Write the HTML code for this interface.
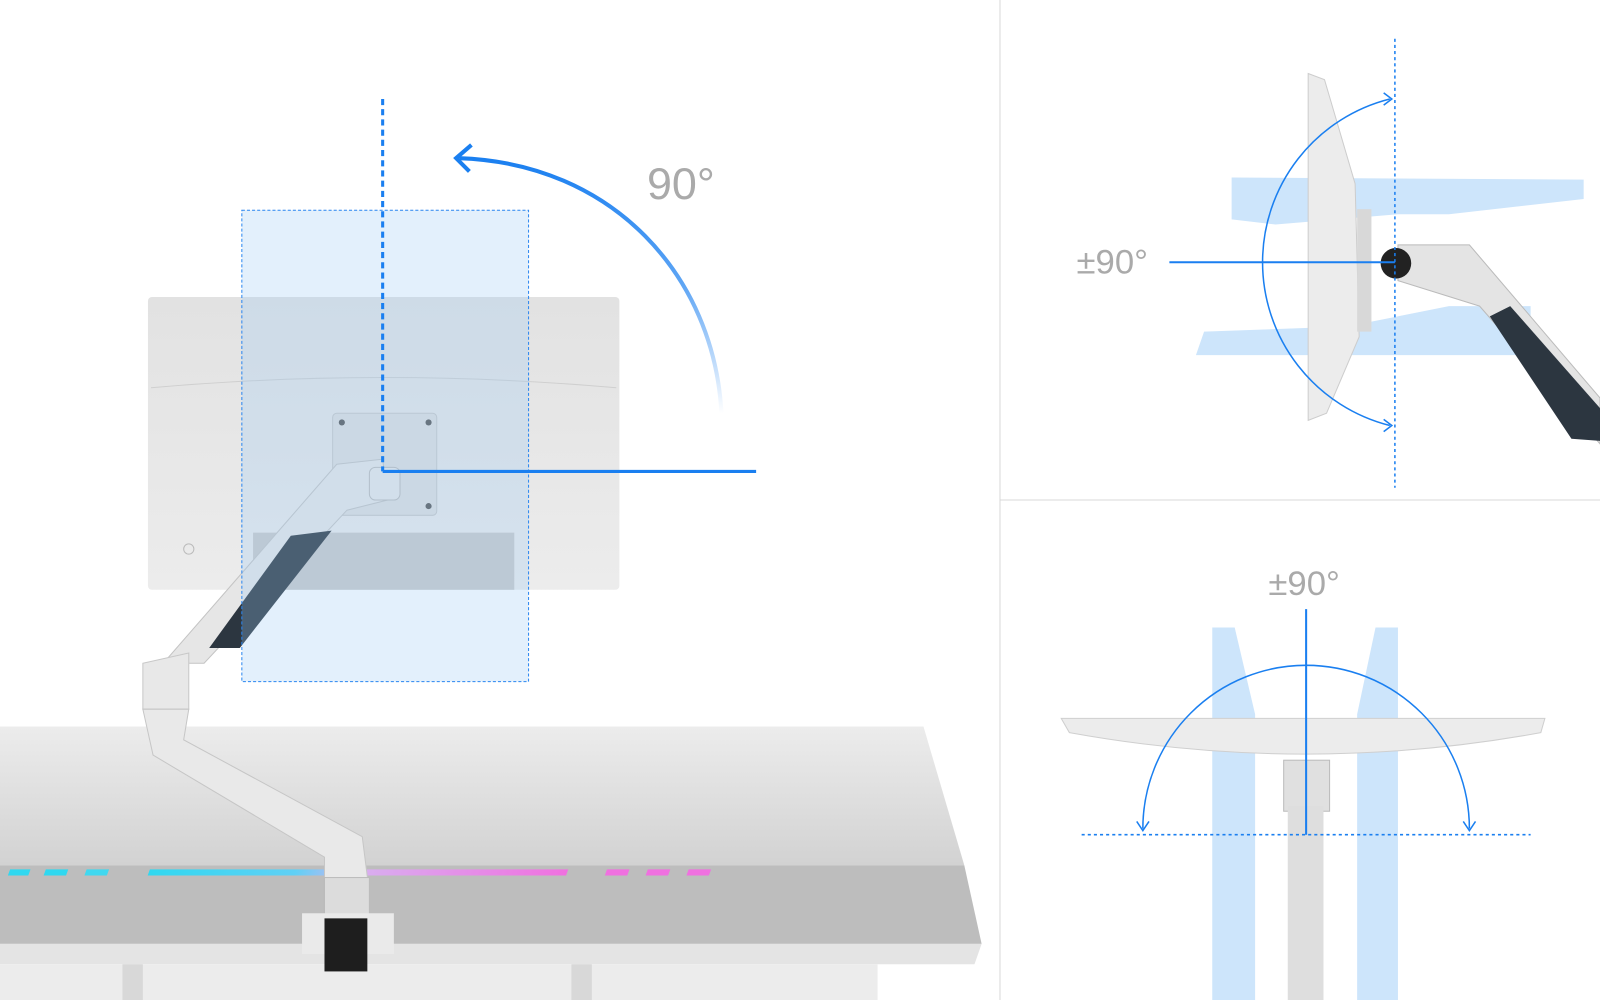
<!DOCTYPE html>
<html><head><meta charset="utf-8"><style>
html,body{margin:0;padding:0;background:#fff;width:1600px;height:1000px;overflow:hidden}
svg{display:block}
text{font-family:"Liberation Sans",sans-serif}
</style></head><body>
<svg width="1600" height="1000" viewBox="0 0 1568 980" preserveAspectRatio="none" xmlns="http://www.w3.org/2000/svg">
<defs>
<linearGradient id="desk" x1="0" y1="0" x2="0" y2="1"><stop offset="0" stop-color="#ececec"/><stop offset="1" stop-color="#d2d2d2"/></linearGradient>
<linearGradient id="mon" x1="0" y1="0" x2="0" y2="1"><stop offset="0" stop-color="#e2e2e2"/><stop offset="1" stop-color="#ececec"/></linearGradient>
<linearGradient id="arcg" x1="0" y1="1" x2="0" y2="0"><stop offset="0" stop-color="#1a7ff0" stop-opacity="0"/><stop offset="0.5" stop-color="#1a7ff0" stop-opacity="0.7"/><stop offset="1" stop-color="#1a7ff0"/></linearGradient>
<linearGradient id="led" x1="0" y1="0" x2="1" y2="0"><stop offset="0" stop-color="#30d8f0"/><stop offset="0.35" stop-color="#60d0f5"/><stop offset="0.5" stop-color="#d8b0f0"/><stop offset="1" stop-color="#f070e0"/></linearGradient>
</defs>
<rect width="1568" height="980" fill="#fff"/>
<!-- dividers -->
<line x1="980" y1="0" x2="980" y2="980" stroke="#d8d8d8" stroke-width="1"/>
<line x1="980" y1="490" x2="1568" y2="490" stroke="#d8d8d8" stroke-width="1"/>

<!-- desk -->
<polygon points="0,712 905,712 945,848 0,848" fill="url(#desk)"/>
<polygon points="0,848 945,848 962,925 0,925" fill="#bdbdbd"/>
<polygon points="0,925 962,925 955,945 0,945" fill="#e4e4e4"/>
<rect x="0" y="945" width="860" height="35" fill="#ececec"/>
<rect x="120" y="945" width="20" height="35" fill="#d8d8d8"/>
<rect x="560" y="945" width="20" height="35" fill="#d8d8d8"/>
<g transform="skewX(-20)">
<rect x="320" y="852" width="20" height="6" fill="#30d8f0"/>
<rect x="355" y="852" width="22" height="6" fill="#30d8f0"/>
<rect x="395" y="852" width="22" height="6" fill="#40d8f0"/>
<rect x="457" y="852" width="410" height="6" fill="url(#led)"/>
<rect x="905" y="852" width="22" height="6" fill="#f070e0"/>
<rect x="945" y="852" width="22" height="6" fill="#f070e0"/>
<rect x="985" y="852" width="22" height="6" fill="#f070e0"/>
</g>

<!-- monitor back -->
<rect x="145" y="291" width="462" height="287" rx="4" fill="url(#mon)"/>
<path d="M148 380 Q376 360 604 380" stroke="#cfcfcf" fill="none"/>
<rect x="248" y="522" width="256" height="56" fill="#c9c9c9"/>
<circle cx="185" cy="538" r="5" fill="none" stroke="#bbb"/>
<rect x="326" y="405" width="102" height="100" rx="4" fill="#dedede" stroke="#c8c8c8"/>
<circle cx="335" cy="414" r="3" fill="#555"/><circle cx="420" cy="414" r="3" fill="#555"/>
<circle cx="335" cy="496" r="3" fill="#555"/><circle cx="420" cy="496" r="3" fill="#555"/>

<!-- arm -->
<polygon points="330,455 375,450 380,490 340,500 200,650 160,650" fill="#e6e6e6" stroke="#c4c4c4"/>
<polygon points="285,525 325,520 235,635 205,635" fill="#2c3640"/>
<rect x="362" y="458" width="30" height="32" rx="6" fill="#e8e8e8" stroke="#bbb"/>
<polygon points="140,650 185,640 185,695 140,695" fill="#e8e8e8" stroke="#c8c8c8"/>
<polygon points="140,695 185,695 180,725 355,820 362,875 318,875 318,840 150,740" fill="#e9e9e9" stroke="#c6c6c6"/>
<rect x="318" y="860" width="44" height="40" fill="#dcdcdc" stroke="#bbb"/>
<rect x="296" y="895" width="90" height="40" fill="#eaeaea"/>
<rect x="318" y="900" width="42" height="52" fill="#1e1e1e"/>

<!-- blue rect -->
<rect x="237" y="206" width="281" height="462" fill="#9cc8f5" fill-opacity="0.28" stroke="#2b86f0" stroke-dasharray="3,2"/>
<line x1="375" y1="97" x2="375" y2="462" stroke="#1a7ff0" stroke-width="3" stroke-dasharray="6,4"/>
<line x1="375" y1="462" x2="741" y2="462" stroke="#1a7ff0" stroke-width="3"/>
<path d="M707 405 C700 270 600 160 450 155" stroke="url(#arcg)" stroke-width="4" fill="none"/>
<path d="M462 142 L447 155 L460 168" stroke="#1a7ff0" stroke-width="4" fill="none"/>
<text x="634" y="195" font-size="44" fill="#aaa">90°</text>

<!-- top right -->
<path d="M1207 174 L1552 176 L1552 195 L1420 210 L1370 210 L1250 220 L1207 215 Z" fill="#cde5fb"/>
<path d="M1180 325 L1320 320 L1420 300 L1500 300 L1500 348 L1172 348 Z" fill="#cde5fb"/>
<path d="M1282 72 L1298 78 L1328 180 L1332 330 L1300 405 L1282 412 Z" fill="#ececec" stroke="#cdcdcd"/>
<rect x="1330" y="205" width="14" height="120" fill="#d8d8d8"/>
<polygon points="1370,240 1440,240 1568,390 1568,435 1450,300 1370,275" fill="#e4e4e4" stroke="#bbb"/>
<polygon points="1460,310 1480,300 1568,400 1568,432 1540,430" fill="#2c3640"/>
<circle cx="1368" cy="258" r="15" fill="#222"/>
<line x1="1367" y1="38" x2="1367" y2="478" stroke="#1a7ff0" stroke-width="1.5" stroke-dasharray="3,3"/>
<line x1="1146" y1="257" x2="1367" y2="257" stroke="#1a7ff0" stroke-width="2"/>
<path d="M1362 97 A165 165 0 0 0 1362 417" stroke="#1a7ff0" stroke-width="1.5" fill="none"/>
<path d="M1356 91 L1364 97 L1356 103 M1356 411 L1364 417 L1356 423" stroke="#1a7ff0" stroke-width="1.5" fill="none"/>
<text x="1055" y="268" font-size="34" fill="#aaa">±90°</text>

<!-- bottom right -->
<path d="M1188 615 L1210 615 L1230 700 L1230 980 L1188 980 Z" fill="#cde5fb"/>
<path d="M1370 615 L1348 615 L1330 700 L1330 980 L1370 980 Z" fill="#cde5fb"/>
<path d="M1040 704 L1514 704 L1510 718 Q1280 760 1048 718 Z" fill="#ececec" stroke="#cfcfcf"/>
<rect x="1258" y="745" width="45" height="50" fill="#e0e0e0" stroke="#bbb"/>
<rect x="1262" y="790" width="35" height="190" fill="#dedede"/>
<line x1="1060" y1="818" x2="1500" y2="818" stroke="#1a7ff0" stroke-width="1.5" stroke-dasharray="3,3"/>
<line x1="1280" y1="597" x2="1280" y2="818" stroke="#1a7ff0" stroke-width="2"/>
<path d="M1120 812 A160 160 0 0 1 1440 812" stroke="#1a7ff0" stroke-width="1.5" fill="none"/>
<path d="M1114 805 L1120 814 L1126 805 M1434 805 L1440 814 L1446 805" stroke="#1a7ff0" stroke-width="1.5" fill="none"/>
<text x="1243" y="583" font-size="34" fill="#aaa">±90°</text>
</svg>
</body></html>
